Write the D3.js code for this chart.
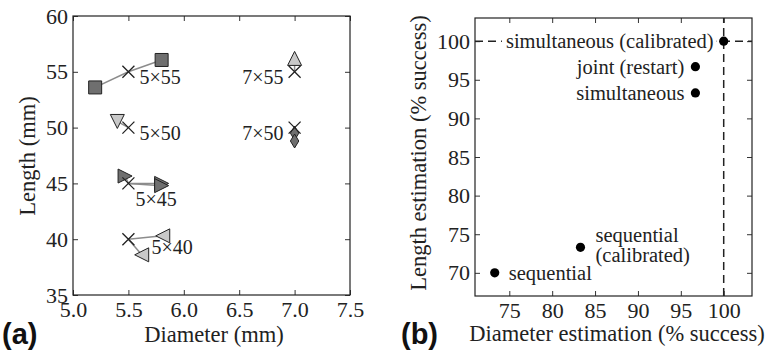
<!DOCTYPE html>
<html>
<head>
<meta charset="utf-8">
<script src="https://cdn.jsdelivr.net/npm/d3@7"></script>
<style>
  body { margin: 0; background: #fff; }
  text { font-family: "Liberation Serif", "Times New Roman", serif; fill: #222; }
  .panel-tag { font-family: "Liberation Sans", Arial, sans-serif; font-weight: bold; fill: #111; }
</style>
</head>
<body>
<svg id="fig" width="768" height="357"></svg>
<script>
// ---- panel (a) data: nominal sizes and estimates ----
const nominalD = [5.5, 5.5, 5.5, 5.5, 7.0, 7.0];
const nominalL = [55, 50, 45, 40, 55, 50];
const sizeLabels = ["5×55", "5×50", "5×45", "5×40", "7×55", "7×50"];

const estGroup = [0, 0, 1, 2, 2, 2, 3, 3, 4, 5, 5];
const estD = [5.2, 5.8, 5.4, 5.47, 5.8, 5.8, 5.81, 5.62, 7.0, 7.0, 7.0];
const estL = [53.6, 56.06, 50.55, 45.66, 45.0, 44.8, 40.3, 38.6, 56.2, 49.5, 48.8];

const aXTicks = [5.0, 5.5, 6.0, 6.5, 7.0, 7.5];
const aYTicks = [35, 40, 45, 50, 55, 60];

// ---- panel (b) data: estimation methods ----
const methods = ["sequential", "sequential (calibrated)", "simultaneous", "joint (restart)", "simultaneous (calibrated)"];
const diamSuccess = [73.3, 83.3, 96.7, 96.7, 100];
const lenSuccess = [70, 73.3, 93.3, 96.7, 100];

const bXTicks = [75, 80, 85, 90, 95, 100];
const bYTicks = [70, 75, 80, 85, 90, 95, 100];

const svg = d3.select("#fig");
svg.append("rect").attr("width", 768).attr("height", 357).attr("fill", "#fff");

// marker look per group (style only)
const groupShape = ["square", "triDown", "triRight", "triLeft", "triUp", "diamond"];
const groupFill = ["#6f6f6f", "#c9c9c9", "#6f6f6f", "#c9c9c9", "#c9c9c9", "#6f6f6f"];

function markerPath(shape, h) {
  switch (shape) {
    case "square": return `M${-h},${-h}H${h}V${h}H${-h}Z`;
    case "triUp": return `M0,${-h}L${h},${h}L${-h},${h}Z`;
    case "triDown": return `M0,${h}L${h},${-h}L${-h},${-h}Z`;
    case "triRight": return `M${h},0L${-h},${h}L${-h},${-h}Z`;
    case "triLeft": return `M${-h},0L${h},${h}L${h},${-h}Z`;
    case "diamond": return `M0,${-h}L${h * 0.6},0L0,${h}L${-h * 0.6},0Z`;
  }
}

// draw frame + inward ticks on all four sides
function drawFrame(g, x, y, xTicks, yTicks, xFmt, yFmt) {
  const [x0, x1] = x.range();
  const [y1, y0] = y.range();
  g.append("g").attr("transform", `translate(0,${y1})`)
    .call(d3.axisBottom(x).tickValues(xTicks).tickFormat(xFmt).tickSizeInner(-5).tickSizeOuter(0).tickPadding(6))
    .call(a => a.select(".domain").remove());
  g.append("g").attr("transform", `translate(0,${y0})`)
    .call(d3.axisTop(x).tickValues(xTicks).tickFormat("").tickSizeInner(-5).tickSizeOuter(0))
    .call(a => a.select(".domain").remove());
  g.append("g").attr("transform", `translate(${x0},0)`)
    .call(d3.axisLeft(y).tickValues(yTicks).tickFormat(yFmt).tickSizeInner(-5).tickSizeOuter(0).tickPadding(5))
    .call(a => a.select(".domain").remove());
  g.append("g").attr("transform", `translate(${x1},0)`)
    .call(d3.axisRight(y).tickValues(yTicks).tickFormat("").tickSizeInner(-5).tickSizeOuter(0))
    .call(a => a.select(".domain").remove());
  g.selectAll(".tick text")
    .style("font-family", "'Liberation Serif', 'Times New Roman', serif")
    .style("font-size", "22px")
    .style("fill", "#222");
  g.selectAll(".tick line").attr("stroke", "#333");
  g.append("rect")
    .attr("x", x0).attr("y", y0).attr("width", x1 - x0).attr("height", y1 - y0)
    .attr("fill", "none").attr("stroke", "#222").attr("stroke-width", 1.2);
}

// ================= panel (a) =================
const ax = d3.scaleLinear().domain([5.0, 7.5]).range([73, 350]);
const ay = d3.scaleLinear().domain([35, 60]).range([295, 16]);
const ga = svg.append("g");

drawFrame(ga, ax, ay, aXTicks, aYTicks, d3.format(".1f"), d3.format("d"));

// connector lines nominal -> estimate
ga.selectAll(".conn")
  .data(estGroup)
  .enter().append("line")
  .attr("x1", g => ax(nominalD[g]))
  .attr("y1", g => ay(nominalL[g]))
  .attr("x2", (g, i) => ax(estD[i]))
  .attr("y2", (g, i) => ay(estL[i]))
  .attr("stroke", "#8c8c8c")
  .attr("stroke-width", 1.5);

// estimate markers
ga.selectAll(".est")
  .data(estGroup)
  .enter().append("path")
  .attr("transform", (g, i) => `translate(${ax(estD[i])},${ay(estL[i])})`)
  .attr("d", g => markerPath(groupShape[g], groupShape[g] === "square" ? 6.5 : 7))
  .attr("fill", g => groupFill[g])
  .attr("stroke", "#222")
  .attr("stroke-width", 1);

// nominal crosses
ga.selectAll(".cross")
  .data(nominalD)
  .enter().append("path")
  .attr("transform", (d, i) => `translate(${ax(d)},${ay(nominalL[i])})`)
  .attr("d", "M-6,-6L6,6M-6,6L6,-6")
  .attr("stroke", "#222")
  .attr("stroke-width", 1.3)
  .attr("fill", "none");

// size labels (offsets in px from the cross)
const labelOffset = [[11, 12, "start"], [11, 12, "start"], [7, 23, "start"], [23, 15, "start"], [-11, 12, "end"], [-11, 12, "end"]];
ga.selectAll(".size-label")
  .data(sizeLabels)
  .enter().append("text")
  .attr("x", (d, i) => ax(nominalD[i]) + labelOffset[i][0])
  .attr("y", (d, i) => ay(nominalL[i]) + labelOffset[i][1])
  .attr("text-anchor", (d, i) => labelOffset[i][2])
  .attr("font-size", 20)
  .text(d => d);

ga.append("text").attr("x", 214).attr("y", 342).attr("text-anchor", "middle")
  .attr("font-size", 22.5).text("Diameter (mm)");
ga.append("text").attr("transform", "translate(35,156) rotate(-90)").attr("text-anchor", "middle")
  .attr("font-size", 22.5).text("Length (mm)");
ga.append("text").attr("class", "panel-tag").attr("x", 2).attr("y", 344).attr("font-size", 29).text("(a)");

// ================= panel (b) =================
const bx = d3.scaleLinear().domain([71, 103.3]).range([475, 752]);
const by = d3.scaleLinear().domain([67, 103]).range([296, 18]);
const gb = svg.append("g");

drawFrame(gb, bx, by, bXTicks, bYTicks, d3.format("d"), d3.format("d"));

// reference dashed lines at 100 %
gb.append("line")
  .attr("x1", bx(100)).attr("x2", bx(100)).attr("y1", by.range()[0]).attr("y2", by.range()[1])
  .attr("stroke", "#222").attr("stroke-width", 1.5).attr("stroke-dasharray", "8,5");
gb.append("line")
  .attr("x1", bx.range()[0]).attr("x2", bx.range()[1]).attr("y1", by(100)).attr("y2", by(100))
  .attr("stroke", "#222").attr("stroke-width", 1.5).attr("stroke-dasharray", "8,5");

// method labels: [dx, [line dy...], anchor]
const methodPlace = [
  [14, [7], "start"],
  [15, [-5, 15], "start"],
  [-11, [7], "end"],
  [-11, [7], "end"],
  [-10, [7], "end"]
];
methods.forEach((m, i) => {
  const px = bx(diamSuccess[i]), py = by(lenSuccess[i]);
  const [dx, dys, anchor] = methodPlace[i];
  const lines = dys.length > 1 ? ["sequential", "(calibrated)"] : [m];
  const t = gb.append("text").attr("text-anchor", anchor).attr("font-size", 20.5);
  lines.forEach((ln, k) => t.append("tspan").attr("x", px + dx).attr("y", py + dys[k]).text(ln));
  if (i === methods.length - 1) {
    const bb = t.node().getBBox();
    gb.insert("rect", () => t.node())
      .attr("x", bb.x - 4).attr("y", bb.y + 2).attr("width", bb.width + 7).attr("height", bb.height - 4)
      .attr("fill", "#fff");
  }
});

gb.selectAll(".pt")
  .data(diamSuccess)
  .enter().append("circle")
  .attr("cx", d => bx(d))
  .attr("cy", (d, i) => by(lenSuccess[i]))
  .attr("r", 4.6)
  .attr("fill", "#000");

gb.append("text").attr("x", 617).attr("y", 341).attr("text-anchor", "middle")
  .attr("font-size", 22.5).text("Diameter estimation (% success)");
gb.append("text").attr("transform", "translate(426,153) rotate(-90)").attr("text-anchor", "middle")
  .attr("font-size", 22.5).text("Length estimation (% success)");
gb.append("text").attr("class", "panel-tag").attr("x", 401).attr("y", 344).attr("font-size", 29).text("(b)");
</script>
</body>
</html>
